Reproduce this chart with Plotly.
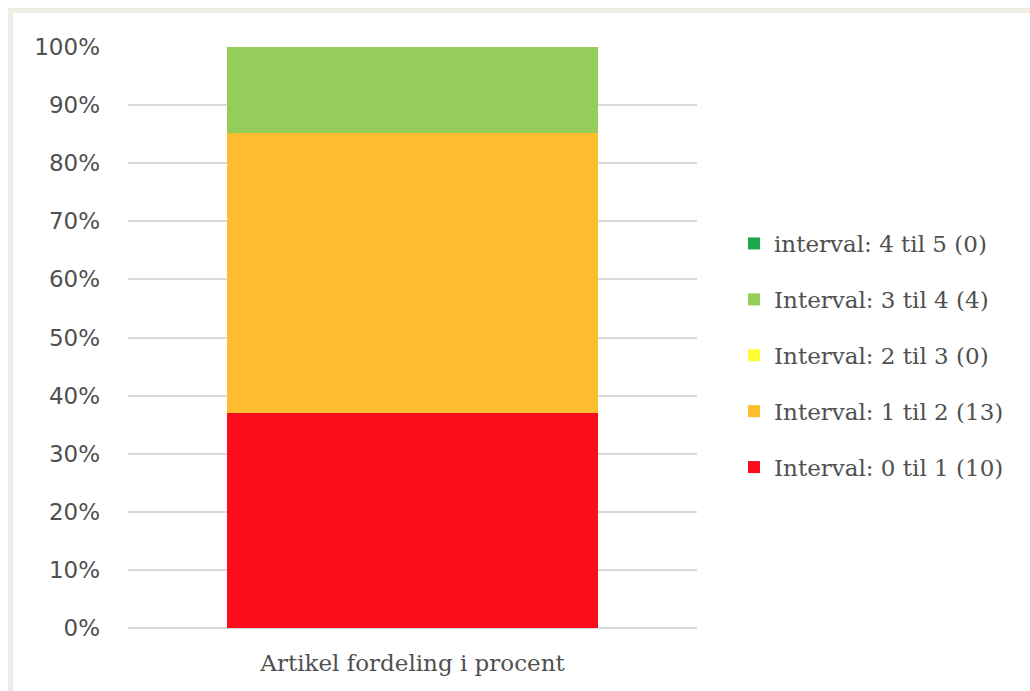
import plotly.graph_objects as go

category = ["Artikel fordeling i procent"]
series_names = ["Interval: 0 til 1 (10)", "Interval: 1 til 2 (13)", "Interval: 2 til 3 (0)",
                "Interval: 3 til 4 (4)", "interval: 4 til 5 (0)"]
counts = [10, 13, 0, 4, 0]
colors = ["#fc0d1b", "#fdbd2f", "#fefe37", "#95cd5a", "#1ea84c"]
tick_vals = [0, 10, 20, 30, 40, 50, 60, 70, 80, 90, 100]
tick_text = ["0%", "10%", "20%", "30%", "40%", "50%", "60%", "70%", "80%", "90%", "100%"]

total = sum(counts)
fig = go.Figure()
n = len(series_names)
for i, (name, c, col) in enumerate(zip(series_names, counts, colors)):
    fig.add_trace(go.Bar(
        x=category, y=[c / total * 100], name=name, marker_color=col,
        marker_line_width=0, width=0.652, legendgroup=name, legendrank=n - i,
    ))

W, H = 1030, 691
L, R, T, B = 128, 697, 47, 628

def px_x(p):
    return (p - L) / (R - L)

def px_y(p):
    return (B - p) / (B - T)

border = "#efede5"
shapes = [
    dict(type="line", xref="paper", yref="paper", x0=px_x(10.5), x1=px_x(1040),
         y0=px_y(10.5), y1=px_y(10.5), line=dict(color=border, width=5)),
    dict(type="line", xref="paper", yref="paper", x0=px_x(10.5), x1=px_x(10.5),
         y0=px_y(8), y1=px_y(700), line=dict(color=border, width=5)),
]

fig.update_layout(
    width=W, height=H,
    margin=dict(l=L, r=W - R, t=T, b=H - B, pad=0),
    barmode="stack",
    plot_bgcolor="white", paper_bgcolor="white",
    showlegend=True,
    legend=dict(
        x=px_x(734), y=px_y(222), xanchor="left", yanchor="top",
        traceorder="grouped", tracegroupgap=23,
        font=dict(family="DejaVu Serif", size=23, color="#505050"),
        itemwidth=30,
    ),
    xaxis=dict(
        showgrid=False, showline=False, zeroline=False, ticks="",
        tickfont=dict(family="DejaVu Serif", size=23, color="#505050"),
        ticklabelstandoff=19,
    ),
    yaxis=dict(
        range=[0, 100], tickvals=tick_vals, ticktext=tick_text,
        showgrid=True, gridcolor="#d9d9d9", gridwidth=2,
        zeroline=True, zerolinecolor="#d9d9d9", zerolinewidth=2,
        showline=False, ticks="",
        tickfont=dict(family="DejaVu Sans", size=23, color="#505050"),
        ticklabelstandoff=27,
    ),
    shapes=shapes,
)

fig.write_html("out.html")
